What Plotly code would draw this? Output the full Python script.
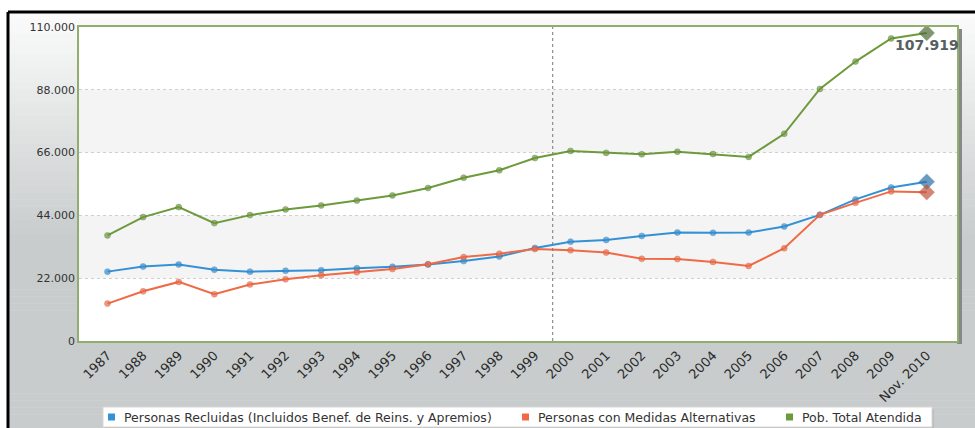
import plotly.graph_objects as go

# datos
anios = ['1987', '1988', '1989', '1990', '1991', '1992', '1993', '1994', '1995', '1996',
         '1997', '1998', '1999', '2000', '2001', '2002', '2003', '2004', '2005', '2006',
         '2007', '2008', '2009', 'Nov. 2010']
recluidas = [24300, 26100, 26800, 25000, 24300, 24600, 24800, 25500, 26000, 26800,
             28000, 29600, 32600, 34800, 35400, 36800, 38000, 37900, 38000, 40100,
             44200, 49600, 53800, 55800]
alternativas = [13100, 17400, 20700, 16400, 19800, 21600, 23000, 24100, 25200, 26900,
                29400, 30600, 32200, 31785, 31000, 28800, 28700, 27700, 26300, 32500,
                44200, 48400, 52400, 52119]
total = [37000, 43400, 46900, 41300, 44100, 46100, 47500, 49200, 51000, 53600,
         57200, 59800, 64100, 66585, 65900, 65400, 66300, 65500, 64500, 72600,
         88300, 97900, 106000, 107919]
y_ticks = [0, 22000, 44000, 66000, 88000, 110000]

nombres = ['Personas Recluidas (Incluidos Benef. de Reins. y Apremios)',
           'Personas con Medidas Alternativas',
           'Pob. Total Atendida']
colores = ['#3391d6', '#ef6a45', '#6d9a3a']
oscuros = ['#2d6fa5', '#c0553a', '#4d6b35']

W, H = 975, 428
L, R, T, B = 79, 18, 27, 87
PW, PH = W - L - R, H - T - B


def px(x):
    return (x - L) / PW


def py(y):
    return (H - B - y) / PH


fig = go.Figure()

n = len(anios)
for serie, nombre, col, osc in zip([recluidas, alternativas, total], nombres, colores, oscuros):
    fig.add_trace(go.Scatter(
        x=anios, y=serie, mode='lines+markers', name=nombre, showlegend=False,
        line=dict(color=col, width=2),
        marker=dict(symbol=['circle'] * (n - 1) + ['diamond'],
                    size=[6] * (n - 1) + [12],
                    color=[col] * (n - 1) + [osc],
                    line=dict(color=osc, width=0.5)),
        hoverinfo='skip'
    ))

# fondo degradado
shapes = []
pasos = 60
c0 = (252, 252, 252)
c1 = (200, 204, 204)
for i in range(pasos):
    y0 = 12 + i * (H - 12) / pasos
    y1 = 12 + (i + 1) * (H - 12) / pasos
    t = min(1.0, ((y0 + y1) / 2 - 12) / 230)
    c = tuple(int(a + (b - a) * t) for a, b in zip(c0, c1))
    shapes.append(dict(type='rect', xref='paper', yref='paper', layer='below',
                       x0=px(9), x1=px(W + 2), y0=py(y0), y1=py(y1 + 0.5),
                       fillcolor='rgb(%d,%d,%d)' % c, line=dict(width=0)))

# sombra derecha del area de grafico
shapes.append(dict(type='rect', xref='paper', yref='paper', layer='below',
                   x0=px(L + PW), x1=px(L + PW + 5), y0=py(T + 2), y1=py(H - B + 3),
                   fillcolor='#858989', line=dict(width=0)))
# fondo blanco del area de grafico
shapes.append(dict(type='rect', xref='paper', yref='paper', layer='below',
                   x0=0, x1=1, y0=0, y1=1, fillcolor='white', line=dict(width=0)))

# marco negro
shapes.append(dict(type='line', xref='paper', yref='paper', x0=px(8), x1=px(W + 5),
                   y0=py(12), y1=py(12), line=dict(color='black', width=3)))
shapes.append(dict(type='line', xref='paper', yref='paper', x0=px(8), x1=px(8),
                   y0=py(12), y1=py(H + 5), line=dict(color='black', width=3)))

# bandas alternas
for a, b in [(22000, 44000), (66000, 88000)]:
    shapes.append(dict(type='rect', xref='x domain', yref='y', layer='below',
                       x0=0, x1=1, y0=a, y1=b, fillcolor='#f4f4f4', line=dict(width=0)))

# linea vertical entre 1999 y 2000
shapes.append(dict(type='line', xref='x', yref='y domain', x0=12.5, x1=12.5, y0=0, y1=1,
                   line=dict(color='#777777', width=1, dash='dot')))


def fmt(v):
    return f'{v:,}'.replace(',', '.')


annotations = [
    dict(x=anios[13], y=total[13], text=fmt(total[13]), showarrow=False, yshift=13,
         font=dict(family='DejaVu Sans', size=14, color='#55605f', weight='bold')),
    dict(x=anios[-1], y=total[-1], text=fmt(total[-1]), showarrow=False, yshift=-12,
         font=dict(family='DejaVu Sans', size=14, color='#55605f', weight='bold')),
]

# leyenda dibujada a mano (caja blanca con cuadrados de color)
shapes.append(dict(type='rect', xref='paper', yref='paper', x0=px(105), x1=px(934),
                   y0=py(409), y1=py(429), fillcolor='#b9bdbd', line=dict(width=0)))
shapes.append(dict(type='rect', xref='paper', yref='paper', x0=px(103), x1=px(932),
                   y0=py(407), y1=py(427), fillcolor='white',
                   line=dict(color='#d8d8d8', width=1)))
ley_x = [108, 522, 786]
for nombre, col, lx in zip(nombres, colores, ley_x):
    shapes.append(dict(type='rect', xref='paper', yref='paper', x0=px(lx), x1=px(lx + 7),
                       y0=py(413.5), y1=py(420.5), fillcolor=col, line=dict(width=0)))
    annotations.append(dict(xref='paper', yref='paper', x=px(lx + 14), y=py(417),
                            xanchor='left', yanchor='middle', text=nombre, showarrow=False,
                            font=dict(family='DejaVu Sans', size=12.5, color='#333333')))

fig.update_layout(
    width=W, height=H,
    margin=dict(l=L, r=R, t=T, b=B),
    paper_bgcolor='white',
    plot_bgcolor='white',
    separators=',.',
    font=dict(family='DejaVu Sans', size=11, color='#333333'),
    shapes=shapes,
    annotations=annotations,
    showlegend=False,
    xaxis=dict(type='category', range=[-0.8, 23.85], tickangle=-45,
               showgrid=False, showline=True, linecolor='#93ad6e', linewidth=1.5,
               mirror=True, ticks='', tickfont=dict(size=13, color='#2a2a2a')),
    yaxis=dict(range=[0, 110000], tickvals=y_ticks, tickformat=',d',
               showgrid=True, gridcolor='#cfcfcf', griddash='dot', gridwidth=1,
               zeroline=False, showline=True, linecolor='#93ad6e', linewidth=1.5,
               mirror=True, ticks='', tickfont=dict(size=11, color='#333333')),
)

fig.write_html('out.html', config={'displayModeBar': False},
               post_script="document.body.style.margin='0';document.body.style.overflow='hidden';")
